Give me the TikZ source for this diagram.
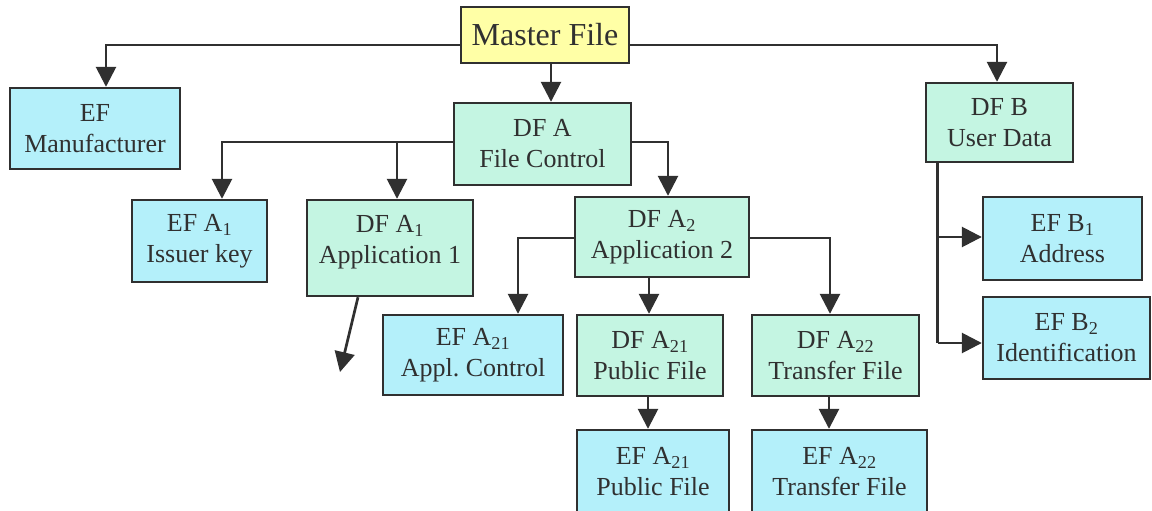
\documentclass[tikz,border=0pt]{standalone}
\usepackage{fontspec}
\setmainfont{Liberation Serif}
\usetikzlibrary{arrows.meta,calc}
\frenchspacing

\definecolor{ink}{HTML}{303030}
\definecolor{efcol}{HTML}{B4F0FA}
\definecolor{dfcol}{HTML}{C4F5E2}
\definecolor{mfcol}{HTML}{FFFFA6}

\tikzset{
  filebox/.style={draw=ink, line width=2.4pt, inner sep=0pt, align=center,
    text=ink, font=\fontsize{26}{31}\selectfont},
  efbox/.style={filebox, fill=efcol},
  dfbox/.style={filebox, fill=dfcol},
  mfbox/.style={filebox, fill=mfcol, font=\fontsize{32}{36}\selectfont},
  link/.style={draw=ink, line width=2.7pt},
  arrlink/.style={link, -{Triangle[width=20pt,length=20pt]}},
}

\begin{document}
\begin{tikzpicture}[x=1pt,y=-1pt]
\path[use as bounding box, clip] (0,0) rectangle (1152,511);

% files
\node[mfbox, minimum width=168pt, minimum height=56pt] (mf) at (545,35) {Master File};
\node[efbox, minimum width=170pt, minimum height=81pt] (efm) at (95,128.5) {EF\\Manufacturer};
\node[dfbox, minimum width=177pt, minimum height=82pt] (dfa) at (542.5,144) {DF A\\File Control};
\node[dfbox, minimum width=147pt, minimum height=79pt] (dfb) at (999.5,122.5) {DF B\\User Data};
\node[efbox, minimum width=135pt, minimum height=82pt] (efa1) at (199.5,241) {EF A\textsubscript{1}\\Issuer key};
\node[dfbox, minimum width=166pt, minimum height=96pt] (dfa1) at (390,248) {DF A\textsubscript{1}\\Application 1\\[-23pt]\strut};
\node[dfbox, minimum width=174pt, minimum height=80pt] (dfa2) at (662,237) {DF A\textsubscript{2}\\Application 2};
\node[efbox, minimum width=159pt, minimum height=83pt] (efb1) at (1062.5,238.5) {EF B\textsubscript{1}\\Address};
\node[efbox, minimum width=167pt, minimum height=82pt] (efb2) at (1066.5,338) {EF B\textsubscript{2}\\Identification};
\node[efbox, minimum width=180pt, minimum height=80pt] (efa21c) at (473,355) {EF A\textsubscript{21}\\Appl.\ Control};
\node[dfbox, minimum width=146pt, minimum height=81pt] (dfa21) at (650,355.5) {DF A\textsubscript{21}\\Public File};
\node[dfbox, minimum width=167pt, minimum height=81pt] (dfa22) at (835.5,355.5) {DF A\textsubscript{22}\\Transfer File};
\node[efbox, minimum width=152pt, minimum height=84pt] (efa21p) at (653,472) {EF A\textsubscript{21}\\Public File};
\node[efbox, minimum width=175pt, minimum height=84pt] (efa22t) at (839.5,472) {EF A\textsubscript{22}\\Transfer File};

% master file links
\draw[arrlink] ([yshift=-10pt]mf.west) -| ([xshift=11pt]efm.north);
\draw[arrlink] ([yshift=-10pt]mf.east) -| ([xshift=-2.5pt]dfb.north);
\draw[arrlink] ([xshift=6pt]mf.south) -- ([xshift=8.5pt]dfa.north);

% DF A links
\coordinate (aL) at ([yshift=2pt]dfa.west);
\coordinate (a1top) at ([xshift=7pt]dfa1.north);
\draw[arrlink] (aL) -| ([xshift=22.5pt]efa1.north);
\draw[arrlink] (a1top |- aL) -- (a1top);
\draw[arrlink] ([yshift=2pt]dfa.east) -| ([xshift=6pt]dfa2.north);

% DF A1 continues further down
\coordinate (a1more) at (340,372);
\draw[arrlink] ([xshift=-32pt]dfa1.south) -- (a1more);

% DF A2 links
\draw[arrlink] ([yshift=-1pt]dfa2.west) -| ([xshift=45pt]efa21c.north);
\draw[arrlink] ([xshift=-13pt]dfa2.south) -- ([xshift=-1pt]dfa21.north);
\draw[arrlink] ([yshift=-1pt]dfa2.east) -| ([xshift=-5.5pt]dfa22.north);

% DF A21 / DF A22 links
\draw[arrlink] ([xshift=-2pt]dfa21.south) -- ([xshift=-5pt]efa21p.north);
\draw[arrlink] ([xshift=-6.5pt]dfa22.south) -- ([xshift=-10.5pt]efa22t.north);

% DF B links
\coordinate (bstem) at ([xshift=13pt]dfb.south west);
\coordinate (b1in) at ([yshift=1.5pt]efb1.west);
\coordinate (b2in) at ([yshift=-5pt]efb2.west);
\draw[link] (bstem) -- (bstem |- b2in);
\draw[arrlink] (bstem |- b1in) -- (b1in);
\draw[arrlink] (bstem |- b2in) -- (b2in);
\end{tikzpicture}
\end{document}
